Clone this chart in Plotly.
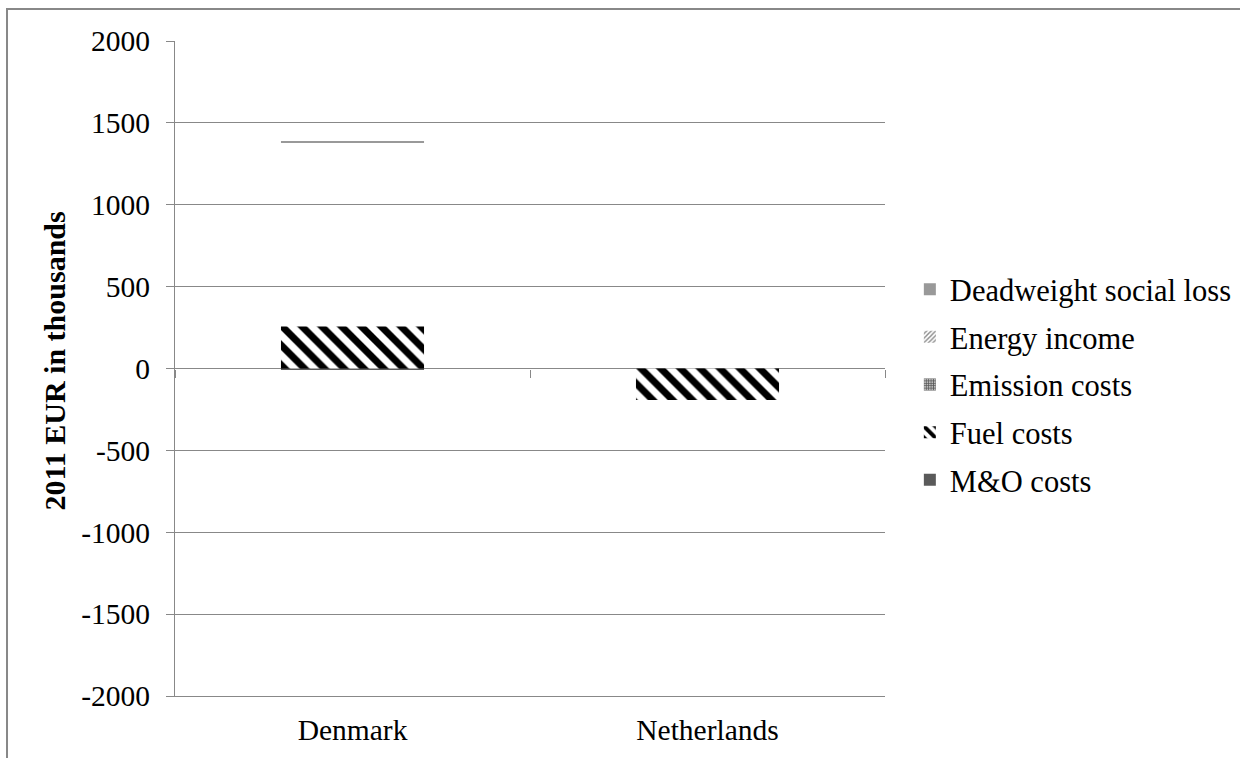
import plotly.graph_objects as go

# Cost components per country (2011 EUR, thousands)
countries = ["Denmark", "Netherlands"]
mo_costs = [-6, 0]
fuel_costs = [257, -192]
emission_costs = [0, 0]
energy_income = [1120, 0]
deadweight_loss = [13, 0]

y_ticks = [-2000, -1500, -1000, -500, 0, 500, 1000, 1500, 2000]
y_tick_text = ["-2000", "-1500", "-1000", "-500", "0", "500", "1000", "1500", "2000"]

FONT = "Liberation Serif"
GRID = "#888888"
TICK_SIZE = 29.5
LEGEND_SIZE = 30.5

fig = go.Figure()

fig.add_trace(go.Bar(
    name="M&O costs", x=countries, y=mo_costs, legendrank=5, legendgroup="mo",
    marker=dict(color="#5a5a5a", line=dict(width=0)),
))
fig.add_trace(go.Bar(
    name="Fuel costs", x=countries, y=fuel_costs, legendrank=4, legendgroup="fuel",
    marker=dict(color="white", line=dict(width=0),
                pattern=dict(shape="\\", fgcolor="black", bgcolor="white",
                             fillmode="replace", fgopacity=1,
                             size=14, solidity=0.5)),
))
fig.add_trace(go.Bar(
    name="Emission costs", x=countries, y=emission_costs, legendrank=3,
    legendgroup="em",
    marker=dict(color="#bbbbbb", line=dict(width=0),
                pattern=dict(shape="+", fgcolor="#555555", bgcolor="#bbbbbb",
                             fillmode="replace", fgopacity=1,
                             size=3, solidity=0.5)),
))
# Energy income segment has no visible fill; its legend key is a separate entry
fig.add_trace(go.Bar(
    name="Energy income", x=countries, y=energy_income, showlegend=False,
    legendgroup="ei",
    marker=dict(color="rgba(0,0,0,0)", line=dict(width=0)),
))
fig.add_trace(go.Bar(
    name="Energy income", x=[None], y=[None], legendrank=2, legendgroup="ei",
    marker=dict(color="white", line=dict(width=0),
                pattern=dict(shape="/", fgcolor="#888888", bgcolor="white",
                             fillmode="replace", fgopacity=1,
                             size=4, solidity=0.45)),
))
fig.add_trace(go.Bar(
    name="Deadweight social loss", x=countries, y=deadweight_loss, legendrank=1,
    legendgroup="dw",
    marker=dict(color="#999999", line=dict(width=0)),
))
# Helper trace so the category-boundary ticks on the zero line are drawn
fig.add_trace(go.Scatter(x=[None], y=[None], xaxis="x2", yaxis="y",
                         showlegend=False, hoverinfo="skip", mode="markers"))

fig.update_layout(
    width=1240, height=758,
    margin=dict(l=175, r=355, t=41, b=62, autoexpand=False),
    paper_bgcolor="white", plot_bgcolor="white",
    barmode="relative", bargap=0.597,
    font=dict(family=FONT, size=TICK_SIZE, color="black"),
    showlegend=True,
    legend=dict(x=1.035, xanchor="left", y=0.475, yanchor="middle",
                traceorder="grouped", tracegroupgap=5,
                font=dict(family=FONT, size=LEGEND_SIZE, color="black"),
                bgcolor="rgba(0,0,0,0)"),
    xaxis=dict(type="category", categoryorder="array", categoryarray=countries,
               range=[-0.5, 1.5], showline=True, linecolor=GRID, linewidth=1,
               showgrid=False, zeroline=False, ticks="",
               ticklabelstandoff=8, tickfont=dict(family=FONT, size=TICK_SIZE)),
    xaxis2=dict(overlaying="x", anchor="free", position=0.5, type="linear",
                range=[-0.5, 1.5], tickvals=[-0.5, 0.5, 1.5], ticks="outside",
                ticklen=8, tickcolor=GRID, tickwidth=1, showticklabels=False,
                showgrid=False, zeroline=False, showline=False),
    yaxis=dict(range=[-2000, 2000], tickvals=y_ticks, ticktext=y_tick_text,
               showline=True, linecolor=GRID, linewidth=1, showgrid=True,
               gridcolor=GRID, gridwidth=1, zeroline=True, zerolinecolor=GRID,
               zerolinewidth=1, ticks="outside", ticklen=8, tickcolor=GRID,
               ticklabelstandoff=10, tickfont=dict(family=FONT, size=TICK_SIZE)),
    annotations=[dict(text="<b>2011 EUR in thousands</b>", xref="paper",
                      yref="paper", x=-0.17, y=0.511, textangle=-90,
                      showarrow=False, xanchor="center", yanchor="middle",
                      font=dict(family=FONT, size=30, color="black"))],
    shapes=[dict(type="rect", xref="paper", yref="paper",
                 x0=-0.2366, x1=1.7, y0=-0.3, y1=1.0489,
                 line=dict(color=GRID, width=2), layer="below")],
)

fig.write_html("out.html")
